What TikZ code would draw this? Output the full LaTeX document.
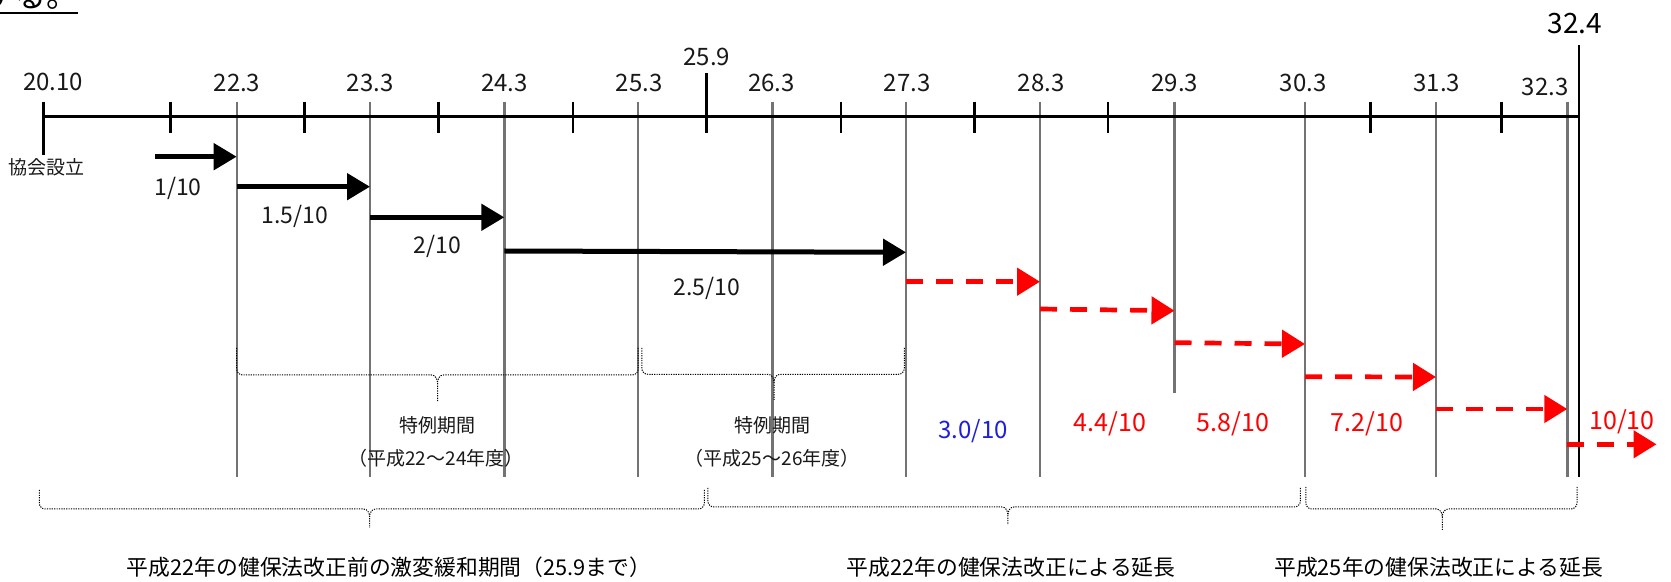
\documentclass[tikz,border=0pt]{standalone}
\usepackage{fontspec}
\setmainfont{Noto Sans CJK JP}
\usetikzlibrary{arrows.meta}
\newcommand\mybrace[6]{% x1, x2, xt, ytop, h, ybot
  \draw[bracepath] (#1,#4) -- (#1,#5-6) to[out=-90,in=180] (#1+6,#5) -- (#3-6,#5) to[out=0,in=90] (#3,#5+8) -- (#3,#6);
  \draw[bracepath] (#2,#4) -- (#2,#5-6) to[out=-90,in=0] (#2-6,#5) -- (#3+6,#5) to[out=180,in=90] (#3,#5+8);
}
\begin{document}
\begin{tikzpicture}[x=0.5pt,y=-0.5pt,
  axisline/.style={line width=1.35pt, line cap=butt},
  yearline/.style={line width=1.2pt, draw=black!55},
  blackarrow/.style={line width=2.5pt, -{Triangle[length=11.5pt,width=13pt]}},
  redarrow/.style={draw=red, line width=2.35pt, dash pattern=on 8.5pt off 6.5pt, -{Triangle[length=11.5pt,width=13.5pt]}},
  bracepath/.style={line width=0.5pt, dash pattern=on 0.6pt off 0.6pt},
  ticklabel/.style={inner sep=0pt, text=black!90, font=\fontsize{12}{12}\selectfont},
  ratelabel/.style={inner sep=0pt, text=black!90, font=\fontsize{11.5}{11.5}\selectfont},
  redlabel/.style={inner sep=0pt, text=red, font=\fontsize{12.5}{12.5}\selectfont},
  bluelabel/.style={inner sep=0pt, text={rgb,255:red,30;green,30;blue,220}, font=\fontsize{12}{12}\selectfont},
  jp/.style={inner sep=0pt, text=black!90, font=\fontsize{9.5}{9.5}\selectfont},
  bottomtxt/.style={inner sep=0pt, text=black, font=\fontsize{10.9}{10.9}\selectfont}
]
\clip (0,0) rectangle (1671,582);
\fill[white] (0,0) rectangle (1671,582);

% cut-off heading at top left
\node[anchor=base west, inner sep=0pt, font=\fontsize{16}{16}\selectfont] (heading) at (-18,8) {する。};
\draw[line width=1pt] (0,13.5) -- (78,13.5);

% year lines (dotted grey)
\foreach \n/\x/\b in {22/236.7/476.7, 23/370/476.7, 24/504.3/476.7, 25/638.2/476.7, 26/772.5/476.7, 27/906/476.7, 28/1040/476.7, 29/1174.5/393.5, 30/1305/476.7, 31/1436/476.7, 32/1567.3/476.7}{
  \coordinate (t\n) at (\x,101.7);
  \coordinate (b\n) at (\x,\b);
  \draw[yearline] (t\n) -- (b\n);
}

% axis
\coordinate (axL) at (43.3,116.7);
\coordinate (axR) at (1579,116.7);
\draw[axisline] (axL) -- (axR);
\foreach \x in {170.7,304.3,438.6,572.9,841,974.6,1108,1370.6,1501.7}
  \draw[axisline] (\x,101.7) -- (\x,132.7);
\draw[axisline] (43.3,101.7) -- (43.3,155);
\draw[axisline] (706.8,73.3) -- (706.8,132.7);
\draw[axisline] (1579,45) -- (1579,476.7);

% axis labels
\node[ticklabel] (l2010) at (53,82) {20.10};
\node[ticklabel] (l22) at (237,83) {22.3};
\node[ticklabel] (l23) at (370,83) {23.3};
\node[ticklabel] (l24) at (504.6,83) {24.3};
\node[ticklabel] (l25) at (639,83) {25.3};
\node[ticklabel] (l259) at (706.8,57) {25.9};
\node[ticklabel] (l26) at (771.4,83) {26.3};
\node[ticklabel] (l27) at (907,83) {27.3};
\node[ticklabel] (l28) at (1041,83) {28.3};
\node[ticklabel] (l29) at (1174.7,83) {29.3};
\node[ticklabel] (l30) at (1303,83) {30.3};
\node[ticklabel] (l31) at (1436.7,83) {31.3};
\node[ticklabel] (l32) at (1545,86.7) {32.3};
\node[ticklabel, font=\fontsize{14}{14}\selectfont, text=black] (l324) at (1575,23.3) {32.4};

\node[jp] (kyokai) at (46.7,167) {協会設立};

% black arrows
\coordinate (s1) at (155,156.7);   \coordinate (e1) at (236.7,156.7);
\coordinate (s2) at (236.7,186.7); \coordinate (e2) at (370,186.7);
\coordinate (s3) at (370,217.3);   \coordinate (e3) at (504.3,217.3);
\coordinate (s4) at (504.3,251);   \coordinate (e4) at (906,252.3);
\draw[blackarrow] (s1) -- (e1);
\draw[blackarrow] (s2) -- (e2);
\draw[blackarrow] (s3) -- (e3);
\draw[blackarrow] (s4) -- (e4);

\node[ratelabel] (r1) at (178,188) {1/10};
\node[ratelabel] (r15) at (294.6,216.7) {1.5/10};
\node[ratelabel] (r2) at (437.5,246.7) {2/10};
\node[ratelabel] (r25) at (706.8,288.3) {2.5/10};

% red dashed arrows
\coordinate (u1) at (906,281.7);    \coordinate (v1) at (1040,281.7);
\coordinate (u2) at (1040,309);     \coordinate (v2) at (1174.5,310.7);
\coordinate (u3) at (1174.5,342.7); \coordinate (v3) at (1305,344);
\coordinate (u4) at (1305,376.7);   \coordinate (v4) at (1436,377);
\coordinate (u5) at (1436,409);     \coordinate (v5) at (1567.3,409);
\coordinate (u6) at (1567.3,444.3); \coordinate (v6) at (1656.5,444.3);
\foreach \i in {1,...,6} \draw[redarrow] (u\i) -- (v\i);

\node[bluelabel] (r30) at (973,431) {3.0/10};
\node[redlabel] (r44) at (1110,424) {4.4/10};
\node[redlabel] (r58) at (1233,424) {5.8/10};
\node[redlabel] (r72) at (1367,424) {7.2/10};
\node[redlabel] (r100) at (1622,422) {10/10};

% braces
\mybrace{236.7}{638.2}{437.5}{348}{375}{401.7}
\mybrace{641.8}{904.3}{774}{348}{374.3}{400}
\mybrace{39.3}{704.3}{369.6}{490}{509}{528}
\mybrace{707.9}{1300.3}{1007.9}{488}{507}{525}
\mybrace{1305.8}{1577}{1442.3}{487}{509}{530}

\node[jp] (tk1) at (437.5,425) {特例期間};
\node[jp] (nd1) at (436,458) {（平成22～24年度）};
\node[jp] (tk2) at (772,425) {特例期間};
\node[jp] (nd2) at (772,458) {（平成25～26年度）};

\node[bottomtxt] (bt1) at (389,567) {平成22年の健保法改正前の激変緩和期間（25.9まで）};
\node[bottomtxt] (bt2) at (1011,567) {平成22年の健保法改正による延長};
\node[bottomtxt] (bt3) at (1438.6,567) {平成25年の健保法改正による延長};
\end{tikzpicture}
\end{document}
